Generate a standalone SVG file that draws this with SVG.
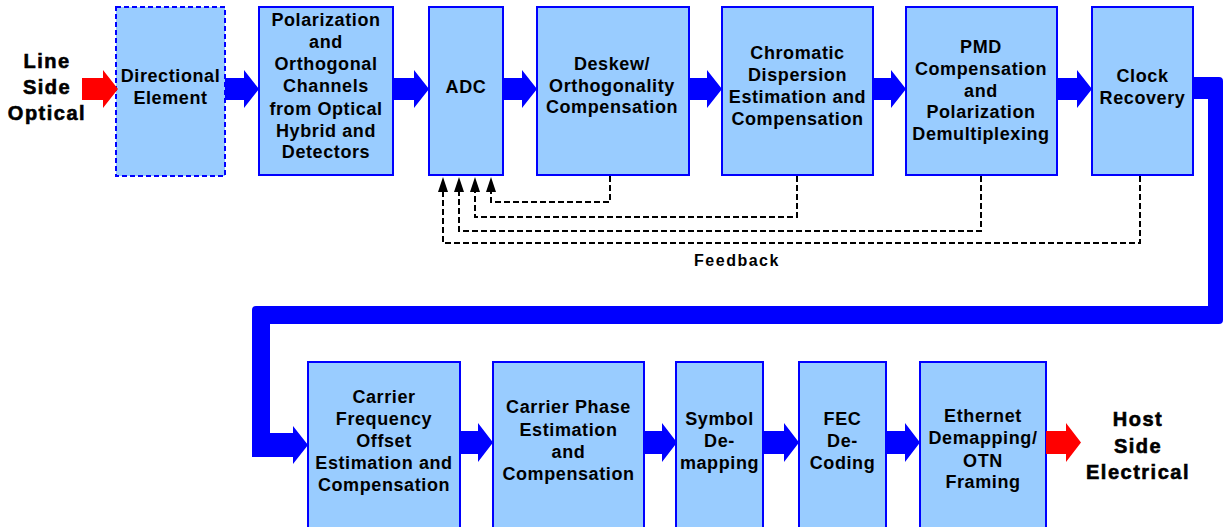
<svg xmlns="http://www.w3.org/2000/svg" width="1225" height="527" viewBox="0 0 1225 527">
<style>
.box{fill:#99CCFF;stroke:#0000FF;stroke-width:2}
.dash{stroke-dasharray:5 3}
.t{font-family:"Liberation Sans",Arial,sans-serif;font-weight:bold;font-size:18px;letter-spacing:0.6px;fill:#000;text-anchor:middle}
.big{font-size:20px;letter-spacing:1.5px;stroke:#000;stroke-width:0.6}
.fbl{font-size:16px;letter-spacing:1.5px}
.ba{fill:#0000FF}
.ra{fill:#FF0000}
.fb{fill:none;stroke:#000;stroke-width:2;stroke-dasharray:6 3;marker-end:url(#ah)}
</style>
<defs>
<marker id="ah" viewBox="0 0 15 10" refX="8" refY="5" markerWidth="15" markerHeight="10" markerUnits="userSpaceOnUse" orient="auto">
<path d="M0,0 L15,5 L0,10 Z" fill="#000"/>
</marker>
</defs>

<g id="label-line-side">
<text class="t big" x="47" y="68">Line</text>
<text class="t big" x="47" y="94">Side</text>
<text class="t big" x="47" y="120">Optical</text>
</g>
<g id="label-host-side">
<text class="t big" x="1138" y="426">Host</text>
<text class="t big" x="1138" y="453">Side</text>
<text class="t big" x="1138" y="479">Electrical</text>
</g>

<g id="n-directional">
<rect class="box dash" x="116" y="7" width="109" height="169"/>
<text class="t" x="170.5" y="82">Directional</text>
<text class="t" x="170.5" y="104">Element</text>
</g>
<g id="n-polarization">
<rect class="box" x="259" y="7" width="134" height="168"/>
<text class="t" x="326" y="26">Polarization</text>
<text class="t" x="326" y="48">and</text>
<text class="t" x="326" y="70">Orthogonal</text>
<text class="t" x="326" y="92">Channels</text>
<text class="t" x="326" y="115">from Optical</text>
<text class="t" x="326" y="137">Hybrid and</text>
<text class="t" x="326" y="158">Detectors</text>
</g>
<g id="n-adc">
<rect class="box" x="429" y="7" width="74" height="168"/>
<text class="t" x="466" y="93">ADC</text>
</g>
<g id="n-deskew">
<rect class="box" x="537" y="7" width="152" height="168"/>
<text class="t" x="612" y="70">Deskew/</text>
<text class="t" x="612" y="92">Orthogonality</text>
<text class="t" x="612" y="113">Compensation</text>
</g>
<g id="n-chromatic">
<rect class="box" x="722" y="7" width="151" height="168"/>
<text class="t" x="797.5" y="59">Chromatic</text>
<text class="t" x="797.5" y="81">Dispersion</text>
<text class="t" x="797.5" y="103">Estimation and</text>
<text class="t" x="797.5" y="125">Compensation</text>
</g>
<g id="n-pmd">
<rect class="box" x="906" y="7" width="151" height="168"/>
<text class="t" x="981" y="53">PMD</text>
<text class="t" x="981" y="75">Compensation</text>
<text class="t" x="981" y="97">and</text>
<text class="t" x="981" y="118">Polarization</text>
<text class="t" x="981" y="140">Demultiplexing</text>
</g>
<g id="n-clock">
<rect class="box" x="1092" y="7" width="101" height="168"/>
<text class="t" x="1142.5" y="82">Clock</text>
<text class="t" x="1142.5" y="104">Recovery</text>
</g>

<g id="n-cfo">
<rect class="box" x="308" y="362" width="152" height="180"/>
<text class="t" x="384" y="403">Carrier</text>
<text class="t" x="384" y="425">Frequency</text>
<text class="t" x="384" y="447">Offset</text>
<text class="t" x="384" y="469">Estimation and</text>
<text class="t" x="384" y="491">Compensation</text>
</g>
<g id="n-cpe">
<rect class="box" x="493" y="362" width="151" height="180"/>
<text class="t" x="568.5" y="413">Carrier Phase</text>
<text class="t" x="568.5" y="436">Estimation</text>
<text class="t" x="568.5" y="458">and</text>
<text class="t" x="568.5" y="480">Compensation</text>
</g>
<g id="n-symbol">
<rect class="box" x="676" y="362" width="87" height="180"/>
<text class="t" x="719.5" y="425">Symbol</text>
<text class="t" x="719.5" y="447">De-</text>
<text class="t" x="719.5" y="469">mapping</text>
</g>
<g id="n-fec">
<rect class="box" x="799" y="362" width="87" height="180"/>
<text class="t" x="842.5" y="425">FEC</text>
<text class="t" x="842.5" y="447">De-</text>
<text class="t" x="842.5" y="469">Coding</text>
</g>
<g id="n-ethernet">
<rect class="box" x="920" y="362" width="126" height="180"/>
<text class="t" x="983" y="422">Ethernet</text>
<text class="t" x="983" y="444">Demapping/</text>
<text class="t" x="983" y="467">OTN</text>
<text class="t" x="983" y="488">Framing</text>
</g>

<g id="connectors">
<path class="ra" d="M82,78 H103 V70 L118,89 L103,108 V100 H82 Z"/>
<path class="ba" d="M225,78 H244 V70 L259,89 L244,108 V100 H225 Z"/>
<path class="ba" d="M393,78 H414 V70 L429,89 L414,108 V100 H393 Z"/>
<path class="ba" d="M503,78 H522 V70 L537,89 L522,108 V100 H503 Z"/>
<path class="ba" d="M689,78 H707 V70 L722,89 L707,108 V100 H689 Z"/>
<path class="ba" d="M873,78 H891 V70 L906,89 L891,108 V100 H873 Z"/>
<path class="ba" d="M1057,78 H1077 V70 L1092,89 L1077,108 V100 H1057 Z"/>
<path class="ba" d="M1193,77 H1219 Q1223,77 1223,81 V320 Q1223,324 1219,324 H270 V433 H293 V426 L308,445 L293,464 V457 H252 V310 Q252,306 256,306 H1208 V99 H1193 Z"/>
<path class="ba" d="M460,431 H478 V423 L493,442.5 L478,462 V454 H460 Z"/>
<path class="ba" d="M644,431 H662 V423 L677,442.5 L662,462 V454 H644 Z"/>
<path class="ba" d="M763,431 H784 V423 L799,442.5 L784,462 V454 H763 Z"/>
<path class="ba" d="M886,431 H905 V423 L920,442.5 L905,462 V454 H886 Z"/>
<path class="ra" d="M1046,431 H1066 V423 L1081,442.5 L1066,462 V454 H1046 Z"/>
<path class="fb" d="M610,176 V202 H491 V184"/>
<path class="fb" d="M797,176 V217 H475 V184"/>
<path class="fb" d="M981,176 V231 H459 V184"/>
<path class="fb" d="M1140,176 V243 H443 V184"/>
<text class="t fbl" x="737" y="266">Feedback</text>
</g>
</svg>
